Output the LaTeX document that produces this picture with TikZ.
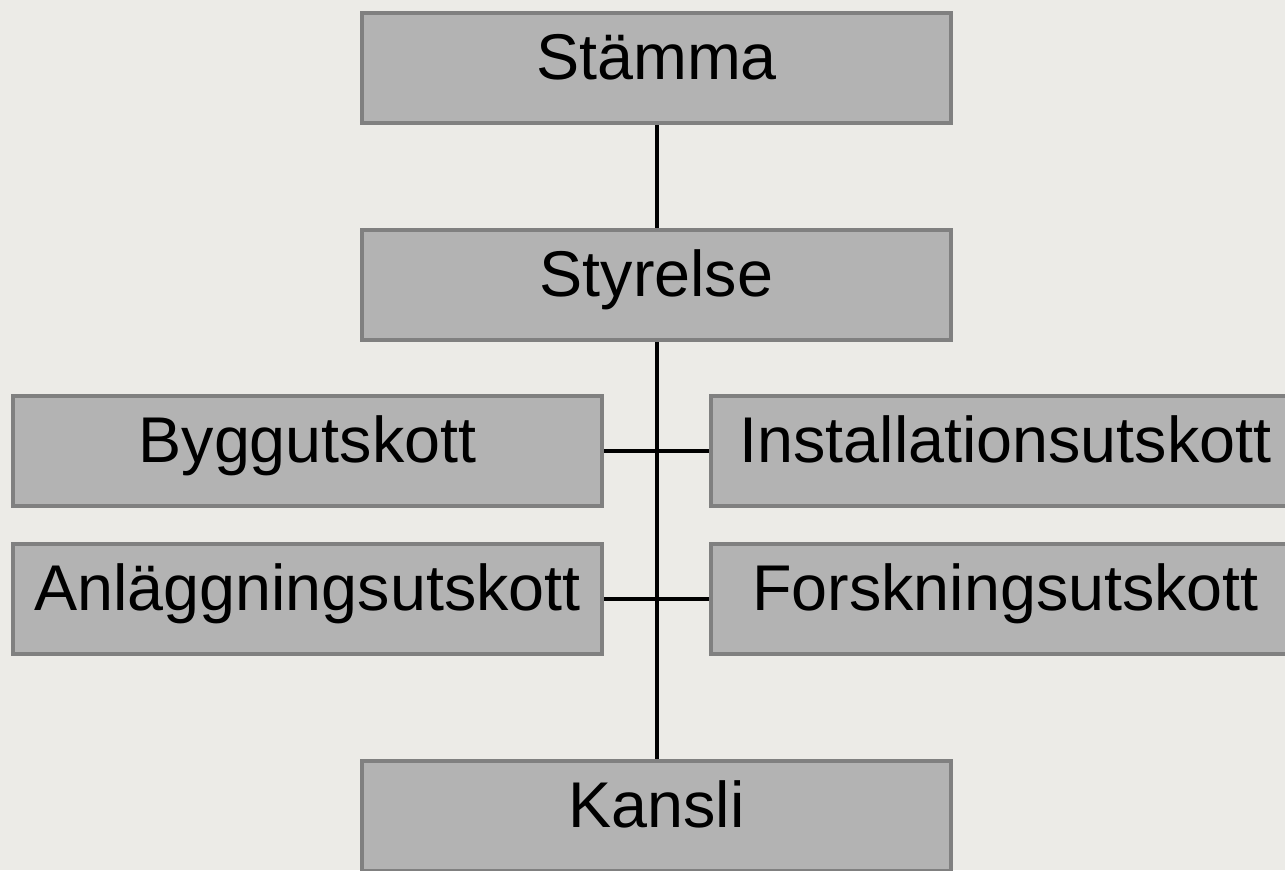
\documentclass[tikz,border=0pt]{standalone}
\usepackage{fontspec}
\setmainfont{Liberation Sans}
\usepackage{tikz}
\usetikzlibrary{calc}

\definecolor{bgcol}{HTML}{ECEBE7}
\definecolor{boxcol}{HTML}{B3B3B3}
\definecolor{framecol}{HTML}{808080}

\tikzset{
    orgbox/.style={draw=framecol, fill=boxcol, line width=0.08cm,
        minimum width=11.8cm, minimum height=2.2cm, inner sep=0pt,
        text height=0.8cm, text depth=0.36cm,
        font=\fontsize{36.8}{44}\selectfont},
    link/.style={black, line width=0.08cm}
}

\begin{document}
\begin{tikzpicture}[x=0.02cm, y=-0.02cm]
        \fill[bgcol] (0,0) rectangle (1285,870);
        \useasboundingbox (0,0) rectangle (1285,870);
        \clip (0,0) rectangle (1285,870);
        \node[orgbox] (stamma) at (656.5,68) {Stämma};
        \node[orgbox] (styrelse) at (656.5,285) {Styrelse};
        \node[orgbox] (bygg) at (307.5,451) {Byggutskott};
        \node[orgbox] (install) at (1005.5,451) {Installationsutskott};
        \node[orgbox] (anlagg) at (307.5,599) {Anläggningsutskott};
        \node[orgbox] (forsk) at (1005.5,599) {Forskningsutskott};
        \node[orgbox] (kansli) at (656.5,816) {Kansli};
        \draw[link] (stamma) -- (styrelse);
        \draw[link] (styrelse) -- (kansli);
        \draw[link] (bygg) -- (install);
        \draw[link] (anlagg) -- (forsk);
    \end{tikzpicture}
\end{document}
